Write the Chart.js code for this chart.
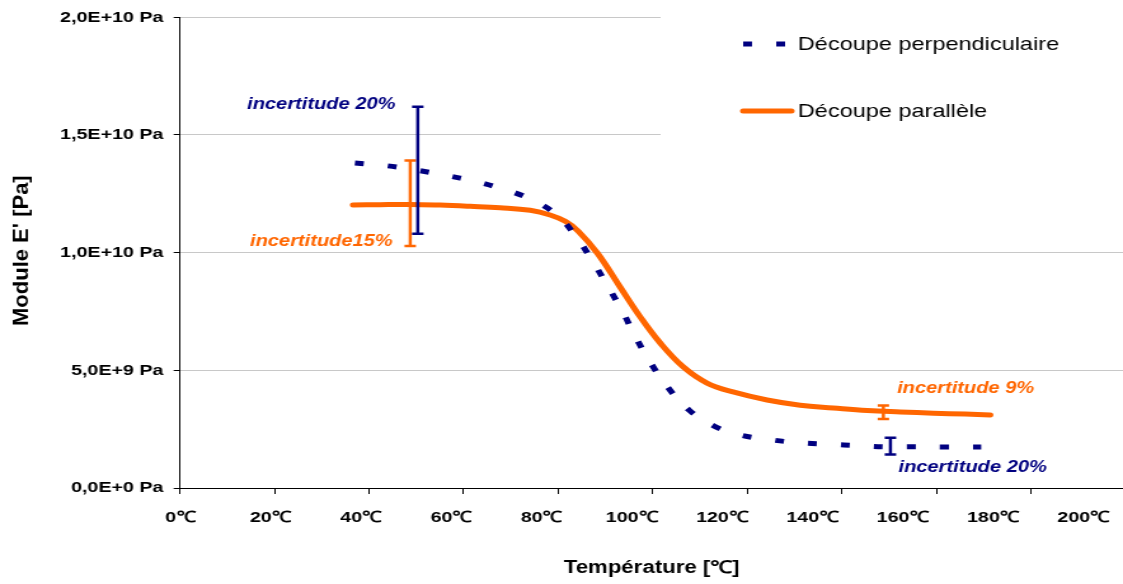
<!DOCTYPE html>
<html lang="fr">
<head>
<meta charset="utf-8">
<title>Module E' en fonction de la température</title>
<script src="https://cdn.jsdelivr.net/npm/chart.js@4.4.1/dist/chart.umd.min.js"></script>
<style>
  html, body { margin: 0; padding: 0; background: #fff; }
</style>
</head>
<body>
<canvas id="graphique" height="584" style="width:1123px;height:584px"></canvas>
<script>
// découpe perpendiculaire (°C, Pa)
const tempPerp = [37.0, 43.8, 50.2, 56.3, 62.2, 68.4, 74.3, 79.8, 84.0, 87.4, 90.6, 93.8, 96.5, 99.7,
  103.3, 107.7, 113.0, 118.5, 125.3, 131.2, 137.4, 143.5, 149.6, 155.6, 161.5, 167.6, 169.5];
const modulePerp = [13.81e9, 13.69e9, 13.50e9, 13.28e9, 13.04e9, 12.70e9, 12.26e9, 11.59e9, 10.62e9, 9.60e9,
  8.54e9, 7.43e9, 6.37e9, 5.27e9, 4.25e9, 3.31e9, 2.63e9, 2.25e9, 2.04e9, 1.92e9, 1.86e9, 1.80e9,
  1.75e9, 1.75e9, 1.74e9, 1.74e9, 1.74e9];

// découpe parallèle (°C, Pa)
const tempPara = [36.6, 42.3, 48.7, 55.0, 61.4, 67.7, 74.1, 78.3, 81.5, 84.2, 88.3, 93.1, 97.4, 101.6,
  106.5, 111.5, 117.0, 124.2, 131.2, 138.2, 145.4, 152.4, 159.4, 166.1, 171.4];
const modulePara = [12.02e9, 12.04e9, 12.05e9, 12.02e9, 11.97e9, 11.91e9, 11.80e9, 11.60e9, 11.33e9, 10.92e9,
  9.98e9, 8.54e9, 7.26e9, 6.16e9, 5.14e9, 4.46e9, 4.08e9, 3.74e9, 3.52e9, 3.40e9, 3.29e9, 3.23e9,
  3.18e9, 3.14e9, 3.10e9];

// barres d'incertitude
const incertPerpTemp = [50.3, 150.3];
const incertPerpModule = [1.35e10, 1.78e9];
const incertPerpPct = [0.20, 0.20];
const incertParaTemp = [48.7, 148.8];
const incertParaModule = [1.21e10, 3.22e9];
const incertParaPct = [0.15, 0.09];

// graduations
const xTicks = [0, 20, 40, 60, 80, 100, 120, 140, 160, 180, 200];
const yTicks = [0, 5e9, 1e10, 1.5e10, 2e10];

const BLEU = '#000080';
const ORANGE = '#ff6600';
const POLICE = "'Liberation Sans', Arial, sans-serif";
const ETIRE = 1.27; // le graphique d'origine est étiré en largeur

const canvas = document.getElementById('graphique');
canvas.width = Math.round(1123 / ETIRE);

function formatPa(v) {
  if (v === 0) return '0,0E+0 Pa';
  const e = Math.floor(Math.log10(v) + 1e-9);
  const m = (v / Math.pow(10, e)).toFixed(1).replace('.', ',');
  return m + 'E+' + e + ' Pa';
}

// textes "incertitude"
const notes = [
  { texte: 'incertitude 20%', t: 14.2, v: 1.61e10, couleur: BLEU },
  { texte: 'incertitude15%', t: 14.8, v: 1.03e10, couleur: ORANGE },
  { texte: 'incertitude 9%', t: 151.7, v: 4.05e9, couleur: ORANGE },
  { texte: 'incertitude 20%', t: 152.0, v: 6.9e8, couleur: BLEU }
];

const barresIncertitude = {
  id: 'barresIncertitude',
  afterDatasetsDraw(chart) {
    const { ctx } = chart;
    const x = chart.scales.x, y = chart.scales.y;
    const series = [
      [incertParaTemp, incertParaModule, incertParaPct, ORANGE],
      [incertPerpTemp, incertPerpModule, incertPerpPct, BLEU]
    ];
    ctx.save();
    ctx.lineWidth = 2.5;
    series.forEach(([ts, vs, ps, c]) => {
      ctx.strokeStyle = c;
      ts.forEach((t, i) => {
        const px = x.getPixelForValue(t);
        const haut = y.getPixelForValue(vs[i] * (1 + ps[i]));
        const bas = y.getPixelForValue(vs[i] * (1 - ps[i]));
        ctx.beginPath();
        ctx.moveTo(px, haut); ctx.lineTo(px, bas);
        ctx.moveTo(px - 4.5, haut); ctx.lineTo(px + 4.5, haut);
        ctx.moveTo(px - 4.5, bas); ctx.lineTo(px + 4.5, bas);
        ctx.stroke();
      });
    });
    ctx.font = 'italic bold 15.8px ' + POLICE;
    ctx.textAlign = 'left';
    ctx.textBaseline = 'alphabetic';
    notes.forEach(n => {
      ctx.fillStyle = n.couleur;
      ctx.fillText(n.texte, x.getPixelForValue(n.t), y.getPixelForValue(n.v));
    });
    ctx.restore();
  }
};

const legende = {
  id: 'legende',
  beforeDatasetsDraw(chart) {
    const { ctx } = chart;
    ctx.save();
    ctx.fillStyle = '#fff';
    ctx.fillRect(520, 0, chart.width - 520, 150);
    ctx.restore();
  },
  afterDraw(chart) {
    const { ctx } = chart;
    const lignes = [44, 111];
    ctx.save();
    ctx.font = '18.5px ' + POLICE;
    ctx.textBaseline = 'middle';
    chart.data.datasets.forEach((ds, i) => {
      const yy = lignes[i];
      ctx.strokeStyle = ds.borderColor;
      ctx.lineWidth = 5;
      ctx.setLineDash(ds.borderDash || []);
      ctx.lineCap = ds.borderDash ? 'butt' : 'round';
      ctx.beginPath();
      ctx.moveTo(585, yy); ctx.lineTo(623, yy);
      ctx.stroke();
      ctx.fillStyle = '#000';
      ctx.fillText(ds.label, 628, yy + 1);
    });
    ctx.restore();
  }
};

const etiquettesX = {
  id: 'etiquettesX',
  afterDraw(chart) {
    const { ctx, chartArea } = chart;
    const s = chart.scales.xLab;
    ctx.save();
    ctx.font = 'bold 15.5px ' + POLICE;
    ctx.fillStyle = '#000';
    ctx.textAlign = 'center';
    ctx.textBaseline = 'middle';
    xTicks.forEach(v => ctx.fillText(v + '℃', s.getPixelForValue(v), chartArea.bottom + 30));
    // titre de l'axe vertical, non étiré
    ctx.translate(17.3, (chartArea.top + chartArea.bottom) / 2 - 2);
    ctx.scale(1 / ETIRE, 1);
    ctx.rotate(-Math.PI / 2);
    ctx.font = 'bold 22px ' + POLICE;
    ctx.fillText("Module E' [Pa]", 0, 0);
    ctx.restore();
  }
};

new Chart(canvas, {
  type: 'line',
  data: {
    datasets: [
      {
        label: 'Découpe perpendiculaire',
        data: tempPerp.map((t, i) => ({ x: t, y: modulePerp[i] })),
        borderColor: BLEU,
        borderWidth: 5,
        borderDash: [7, 19],
        xAxisID: 'x',
        yAxisID: 'y'
      },
      {
        label: 'Découpe parallèle',
        data: tempPara.map((t, i) => ({ x: t, y: modulePara[i] })),
        borderColor: ORANGE,
        borderWidth: 5,
        borderCapStyle: 'round',
        xAxisID: 'x',
        yAxisID: 'y'
      }
    ]
  },
  options: {
    responsive: false,
    devicePixelRatio: 1,
    animation: false,
    layout: { padding: { top: 17, left: 0, right: 0, bottom: 0 } },
    elements: {
      point: { radius: 0, hoverRadius: 0 },
      line: { tension: 0.4, fill: false }
    },
    plugins: { legend: { display: false }, tooltip: { enabled: false } },
    scales: {
      x: {
        type: 'linear',
        position: 'bottom',
        min: 0,
        max: 199.5,
        afterBuildTicks: s => { s.ticks = xTicks.filter(v => v <= s.max).map(v => ({ value: v })); },
        afterFit: s => { s.height = 96; },
        ticks: { display: false },
        grid: { drawOnChartArea: false, tickLength: 6, tickColor: '#000' },
        border: { color: '#000', width: 1 },
        title: {
          display: true,
          text: 'Température [℃]',
          color: '#000',
          font: { family: POLICE, size: 17.5, weight: 'bold' },
          padding: { top: 0, bottom: 5 }
        }
      },
      xLab: {
        type: 'linear',
        axis: 'x',
        position: 'bottom',
        display: false,
        min: 0,
        max: 208.8
      },
      y: {
        type: 'linear',
        min: 0,
        max: 2e10,
        afterBuildTicks: s => { s.ticks = yTicks.map(v => ({ value: v })); },
        afterFit: s => { s.width = 141.7; },
        ticks: {
          callback: v => formatPa(v),
          color: '#000',
          padding: 8,
          font: { family: POLICE, size: 15.5, weight: 'bold' }
        },
        grid: { color: '#c8c8c8', tickLength: 5, tickColor: '#000' },
        border: { color: '#000', width: 1 }
      }
    }
  },
  plugins: [legende, barresIncertitude, etiquettesX]
});
</script>
</body>
</html>
